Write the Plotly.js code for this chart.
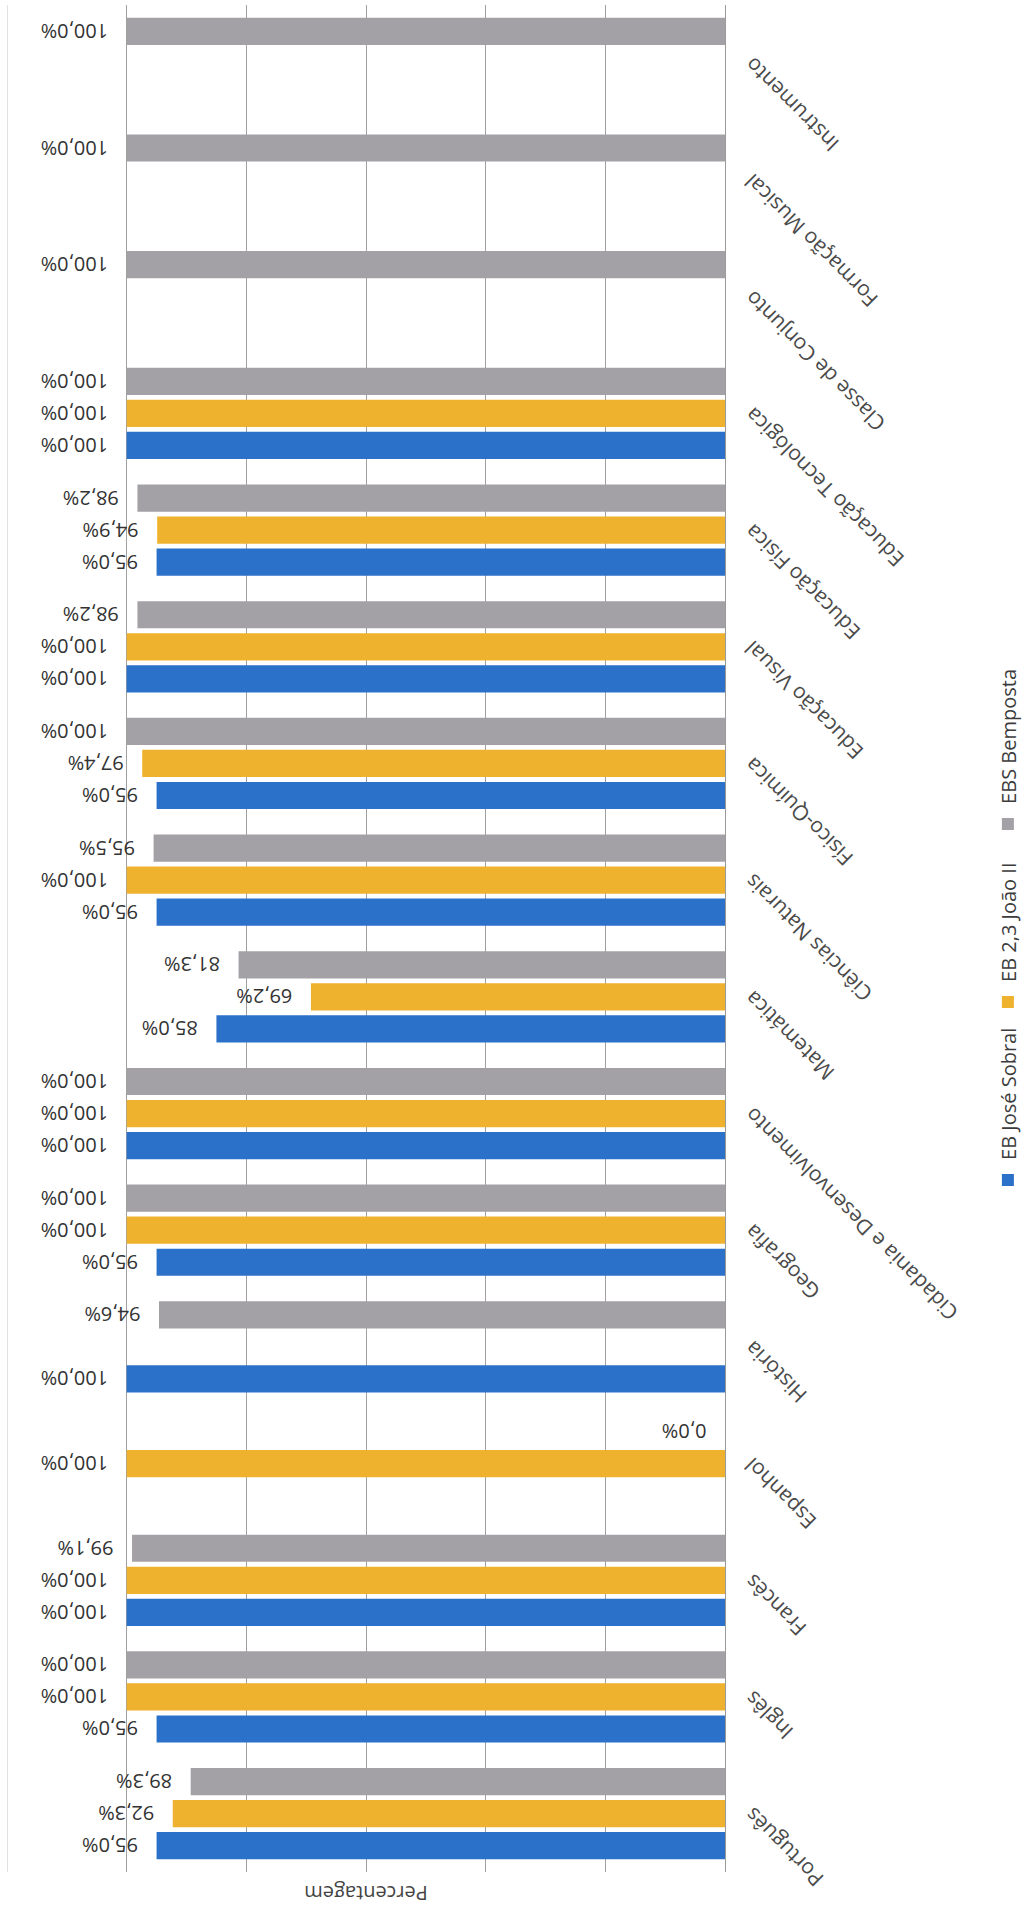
<!DOCTYPE html>
<html><head><meta charset="utf-8">
<script src="https://cdn.plot.ly/plotly-3.0.1.min.js"></script>
<style>
html,body{margin:0;padding:0;width:1033px;height:1910px;overflow:hidden;background:#fff;}
#wrap{position:absolute;left:0;top:0;width:1910px;height:1033px;transform-origin:0 0;transform:translateY(1910px) rotate(-90deg);}
#chart{width:1910px;height:1033px;}
</style></head><body>
<div id="wrap"><div id="chart"></div></div>
<script>
const categories = ['Português','Inglês','Francês','Espanhol','História','Geografia','Cidadania e Desenvolvimento','Matemática','Ciências Naturais','Físico-Química','Educação Visual','Educação Física','Educação Tecnológica','Classe de Conjunto','Formação Musical','Instrumento'];
const seriesNames = ['EB José Sobral','EB 2,3 João II','EBS Bemposta'];
const joseSobral = [95.0,95.0,100.0,null,100.0,95.0,100.0,85.0,95.0,95.0,100.0,95.0,100.0,null,null,null];
const joaoII    = [92.3,100.0,100.0,100.0,null,100.0,100.0,69.2,100.0,97.4,100.0,94.9,100.0,null,null,null];
const bemposta  = [89.3,100.0,99.1,0.0,94.6,100.0,100.0,81.3,95.5,100.0,98.2,98.2,100.0,100.0,100.0,100.0];
const valueTicks = [0,20,40,60,80,100,120];
const axisMax = 120;
const axisTitle = 'Percentagem';
const colors = ['#2B70C9','#EFB22E','#A3A1A6'];

const FONT = 'Open Sans, Lato, sans-serif';
const seriesValues = [joseSobral, joaoII, bemposta];
const traces = seriesValues.map((vals, i) => ({
  type: 'bar',
  name: seriesNames[i],
  x: categories,
  y: vals,
  marker: {color: colors[i]},
  texttemplate: '\u00a0\u00a0\u00a0%{y:.1f}%',
  textposition: 'outside',
  textangle: -90,
  constraintext: 'none',
  cliponaxis: false,
  textfont: {family: FONT, size: 20, color: '#333333'},
  hoverinfo: 'skip'
}));

const layout = {
  width: 1910, height: 1033,
  margin: {l: 38, r: 5, t: 7, b: 308, autoexpand: false},
  paper_bgcolor: '#ffffff', plot_bgcolor: '#ffffff',
  separators: ',.',
  barmode: 'group',
  bargap: 0.177,
  bargroupgap: 0.15,
  font: {family: FONT, color: '#444444'},
  showlegend: true,
  legend: {
    orientation: 'h', x: 0.36, xanchor: 'left', y: -0.394, yanchor: 'middle',
    font: {family: FONT, size: 20, color: '#3c3c3c'},
    itemwidth: 30, entrywidth: 133, entrywidthmode: 'pixels',
    bgcolor: 'rgba(0,0,0,0)', itemclick: false, itemdoubleclick: false
  },
  shapes: [{
    type: 'line', xref: 'paper', x0: 0, x1: 1, yref: 'y', y0: axisMax, y1: axisMax,
    line: {color: '#c4c4c4', width: 1}, layer: 'below'
  }],
  xaxis: {
    type: 'category', categoryorder: 'array', categoryarray: categories,
    tickangle: -45, ticks: '', showgrid: false, showline: true,
    linecolor: '#9a9a9a', linewidth: 1,
    tickfont: {family: FONT, size: 21, color: '#4a4a4a'},
    ticklabelstandoff: 6,
    automargin: false, fixedrange: true
  },
  yaxis: {
    range: [0, axisMax], tickvals: valueTicks, showticklabels: false, ticks: '',
    showgrid: true, gridcolor: '#a0a0a0', gridwidth: 1, zeroline: false,
    title: {text: axisTitle, font: {family: FONT, size: 20, color: '#444444'}, standoff: 6},
    automargin: false, fixedrange: true
  }
};

Plotly.newPlot('chart', traces, layout, {staticPlot: true, displayModeBar: false});
</script>
</body></html>
